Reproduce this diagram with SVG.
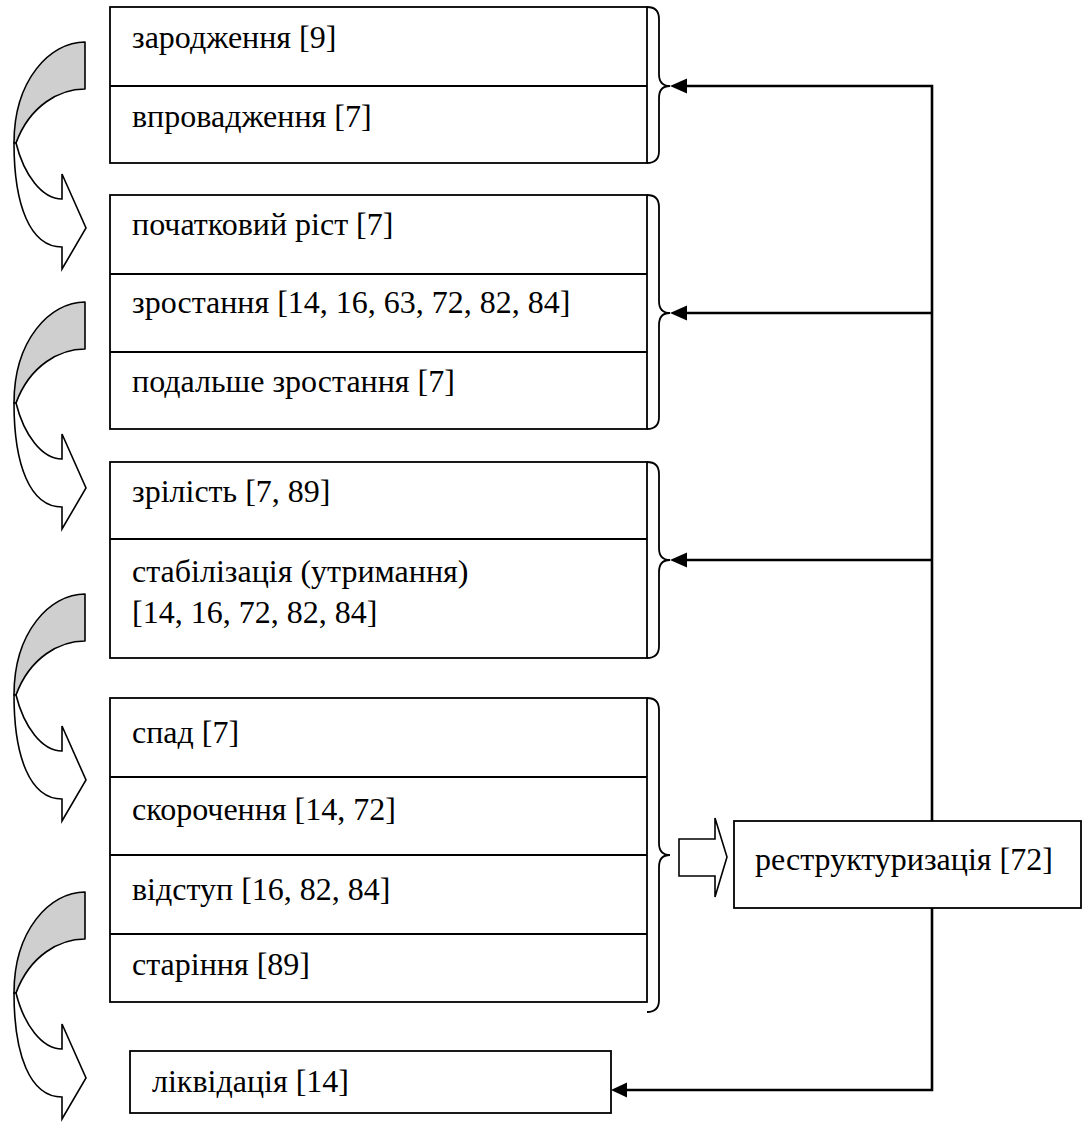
<svg xmlns="http://www.w3.org/2000/svg" width="1083" height="1124" viewBox="0 0 1083 1124">
<style>
.box{fill:#fff;stroke:#000;stroke-width:1.8}
.div{stroke:#000;stroke-width:1.8}
.t{font-family:"Liberation Serif","Times New Roman",serif;font-size:32px;fill:#000}
.brace{fill:none;stroke:#000;stroke-width:1.8}
.con{fill:none;stroke:#000;stroke-width:2.6}
.gray{fill:#cfcfcf;stroke:#000;stroke-width:1.6;stroke-linejoin:round}
.white{fill:#fff;stroke:#000;stroke-width:1.6;stroke-linejoin:miter}
</style>
<defs>
<g id="curved">
<path class="gray" d="M85,42 L85,89 C60,89 30,105 16,143 L14,143 C14,80 50,42 85,42 Z"/>
<path class="white" d="M16,143 C24,175 42,199 62,199 L62,174 L86,228 L62,269 L62,247 C30,247 14,205 14,143 Z"/>
</g>
</defs>
<rect width="1083" height="1124" fill="#fff"/>

<g id="curved-arrows">
<use href="#curved"/>
<use href="#curved" transform="translate(0,260)"/>
<use href="#curved" transform="translate(0,552)"/>
<use href="#curved" transform="translate(0,850)"/>
</g>

<g id="stage1">
<rect class="box" x="110" y="7" width="537" height="156"/>
<line class="div" x1="110" y1="86" x2="647" y2="86"/>
<text class="t" x="132" y="48">зародження [9]</text>
<text class="t" x="132" y="127">впровадження [7]</text>
<path class="brace" d="M647,7 Q659,7 659,19 L659,74 Q659,86 670,86 Q659,86 659,98 L659,151 Q659,163 647,163"/>
</g>

<g id="stage2">
<rect class="box" x="110" y="195" width="537" height="234"/>
<line class="div" x1="110" y1="274" x2="647" y2="274"/>
<line class="div" x1="110" y1="352" x2="647" y2="352"/>
<text class="t" x="132" y="235">початковий ріст [7]</text>
<text class="t" x="132" y="313">зростання [14, 16, 63, 72, 82, 84]</text>
<text class="t" x="132" y="392">подальше зростання [7]</text>
<path class="brace" d="M647,195 Q659,195 659,207 L659,301 Q659,313 670,313 Q659,313 659,325 L659,417 Q659,429 647,429"/>
</g>

<g id="stage3">
<rect class="box" x="110" y="462" width="537" height="196"/>
<line class="div" x1="110" y1="539" x2="647" y2="539"/>
<text class="t" x="132" y="502">зрілість [7, 89]</text>
<text class="t" x="132" y="582">стабілізація (утримання)</text>
<text class="t" x="132" y="623">[14, 16, 72, 82, 84]</text>
<path class="brace" d="M647,462 Q659,462 659,474 L659,548 Q659,560 670,560 Q659,560 659,572 L659,646 Q659,658 647,658"/>
</g>

<g id="stage4">
<rect class="box" x="110" y="698" width="537" height="304"/>
<line class="div" x1="110" y1="777" x2="647" y2="777"/>
<line class="div" x1="110" y1="855" x2="647" y2="855"/>
<line class="div" x1="110" y1="934" x2="647" y2="934"/>
<text class="t" x="132" y="743">спад [7]</text>
<text class="t" x="132" y="820">скорочення [14, 72]</text>
<text class="t" x="132" y="900">відступ [16, 82, 84]</text>
<text class="t" x="132" y="975">старіння [89]</text>
<path class="brace" d="M647,698 Q659,698 659,710 L659,843 Q659,855 670,855 Q659,855 659,867 L659,1000 Q659,1012 647,1012"/>
</g>

<g id="restructuring">
<rect class="box" x="734" y="821" width="347" height="87"/>
<text class="t" x="755" y="870">реструктуризація [72]</text>
</g>

<g id="liquidation">
<rect class="box" x="130" y="1051" width="481" height="62"/>
<text class="t" x="152" y="1092">ліквідація [14]</text>
</g>

<g id="connectors">
<path class="con" d="M932,821 L932,86 L686,86"/>
<path class="con" d="M932,313 L686,313"/>
<path class="con" d="M932,560 L686,560"/>
<path class="con" d="M932,908 L932,1090 L626,1090"/>
<polygon points="670,86 687,78.5 687,93.5" fill="#000"/>
<polygon points="670,313 687,305.5 687,320.5" fill="#000"/>
<polygon points="670,560 687,552.5 687,567.5" fill="#000"/>
<polygon points="611,1090 627,1082.5 627,1097.5" fill="#000"/>
<path class="white" d="M679,839 L715,839 L715,818 L727,857 L715,897 L715,876 L679,876 Z"/>
</g>
</svg>
